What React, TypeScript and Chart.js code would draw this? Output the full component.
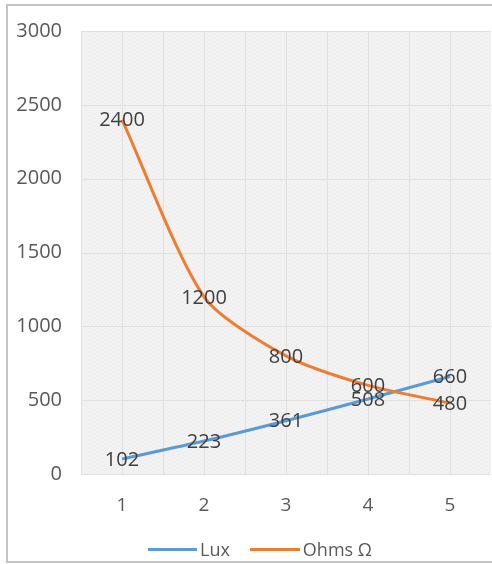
import React, { useEffect, useRef } from "react";
import { Chart, registerables } from "chart.js";

Chart.register(...registerables);

// Readings: light level against sensor resistance
const categories = ["1", "2", "3", "4", "5"];
const luxValues = [102, 223, 361, 508, 660];
const ohmsValues = [2400, 1200, 800, 600, 480];
const seriesNames = ["Lux", "Ohms Ω"];
const seriesColors = ["#5b9bd5", "#ed7d31"];

const FONT = "'Open Sans', 'DejaVu Sans', sans-serif";

function makePattern(ctx: CanvasRenderingContext2D) {
  const c = document.createElement("canvas");
  c.width = 4;
  c.height = 4;
  const p = c.getContext("2d")!;
  p.fillStyle = "#f3f3f3";
  p.fillRect(0, 0, 4, 4);
  p.fillStyle = "#e9e9e9";
  p.fillRect(0, 0, 1, 1);
  p.fillRect(2, 2, 1, 1);
  p.fillStyle = "#eeeeee";
  p.fillRect(1, 3, 1, 1);
  p.fillRect(3, 1, 1, 1);
  return ctx.createPattern(c, "repeat")!;
}

// Frame on the top, left and bottom of the chart box
const chartFrame = {
  id: "chartFrame",
  beforeDraw(chart: any) {
    const { ctx, width } = chart;
    ctx.save();
    ctx.strokeStyle = "#c4c4c4";
    ctx.lineWidth = 2;
    ctx.beginPath();
    ctx.moveTo(width, 5);
    ctx.lineTo(7, 5);
    ctx.lineTo(7, 562);
    ctx.lineTo(width, 562);
    ctx.stroke();
    ctx.restore();
  },
};

// Textured plot area with major horizontal lines and vertical lines at
// every category centre and category boundary.
const plotBackground = {
  id: "plotBackground",
  beforeDraw(chart: any) {
    const { ctx, chartArea, scales } = chart;
    const { left, top, right, bottom } = chartArea;
    ctx.save();
    ctx.fillStyle = makePattern(ctx);
    ctx.fillRect(left, top, right - left, bottom - top);
    ctx.strokeStyle = "#e0e0e0";
    ctx.lineWidth = 1;
    const y = scales.y;
    for (const t of y.ticks) {
      const py = Math.round(y.getPixelForValue(t.value)) + 0.5;
      ctx.beginPath();
      ctx.moveTo(left, py);
      ctx.lineTo(right, py);
      ctx.stroke();
    }
    const x = scales.x;
    const step = x.getPixelForValue(1) - x.getPixelForValue(0);
    for (let i = 0; i < categories.length; i++) {
      const cx = x.getPixelForValue(i);
      for (const px of [cx - step / 2, cx]) {
        const sx = Math.round(px) + 0.5;
        ctx.beginPath();
        ctx.moveTo(sx, top);
        ctx.lineTo(sx, bottom);
        ctx.stroke();
      }
    }
    ctx.restore();
  },
};

// Value labels centred on each point
const valueLabels = {
  id: "valueLabels",
  afterDatasetsDraw(chart: any) {
    const { ctx } = chart;
    ctx.save();
    ctx.font = `20px ${FONT}`;
    ctx.fillStyle = "#404040";
    ctx.textAlign = "center";
    ctx.textBaseline = "middle";
    chart.data.datasets.forEach((ds: any, di: number) => {
      const meta = chart.getDatasetMeta(di);
      meta.data.forEach((pt: any, i: number) => {
        ctx.fillText(String(ds.data[i]), pt.x, pt.y + 1);
      });
    });
    ctx.restore();
  },
};

export default function App() {
  const canvasRef = useRef<HTMLCanvasElement>(null);

  useEffect(() => {
    const chart = new Chart(canvasRef.current!, {
      type: "line",
      data: {
        labels: categories,
        datasets: [
          {
            label: seriesNames[0],
            data: luxValues,
            borderColor: seriesColors[0],
            backgroundColor: seriesColors[0],
            borderWidth: 3,
            pointRadius: 0,
            tension: 0.25,
            order: 1,
          },
          {
            label: seriesNames[1],
            data: ohmsValues,
            borderColor: seriesColors[1],
            backgroundColor: seriesColors[1],
            borderWidth: 3,
            pointRadius: 0,
            tension: 0.25,
            order: 0,
          },
        ],
      },
      options: {
        responsive: false,
        animation: false,
        layout: { padding: { top: 25, right: 1, left: 0, bottom: 0 } },
        plugins: {
          legend: { display: false },
          tooltip: { enabled: false },
        },
        scales: {
          x: {
            offset: true,
            grid: { display: false, drawTicks: false },
            border: { display: false },
            ticks: {
              padding: 20,
              color: "#595959",
              font: { family: FONT, size: 19 },
            },
            afterFit(scale: any) {
              scale.height = 90;
            },
          },
          y: {
            min: 0,
            max: 3000,
            grid: { display: false, drawTicks: false },
            border: { display: false },
            ticks: {
              stepSize: 500,
              padding: 19,
              color: "#595959",
              font: { family: FONT, size: 20 },
              callback: (v: any) => String(v),
            },
            afterFit(scale: any) {
              scale.width = 81;
            },
          },
        },
      },
      plugins: [chartFrame, plotBackground, valueLabels],
    });
    return () => chart.destroy();
  }, []);

  const legendText: React.CSSProperties = {
    fontFamily: FONT,
    fontSize: 18,
    color: "#595959",
    lineHeight: "20px",
  };

  return (
    <div
      style={{
        position: "absolute",
        left: 0,
        top: 0,
        width: 492,
        height: 564,
        overflow: "hidden",
        background: "#ffffff",
      }}
    >
      <canvas
        ref={canvasRef}
        width={492}
        height={564}
        style={{ position: "absolute", left: 0, top: 0, width: 492, height: 564 }}
      />
      <div
        style={{
          position: "absolute",
          left: 148,
          top: 539,
          display: "flex",
          alignItems: "center",
          height: 20,
        }}
      >
        <div style={{ width: 49, height: 3, background: seriesColors[0] }} />
        <span style={{ ...legendText, marginLeft: 3 }}>{seriesNames[0]}</span>
        <div style={{ width: 50, height: 3, background: seriesColors[1], marginLeft: 20 }} />
        <span style={{ ...legendText, marginLeft: 3 }}>{seriesNames[1]}</span>
      </div>
    </div>
  );
}
